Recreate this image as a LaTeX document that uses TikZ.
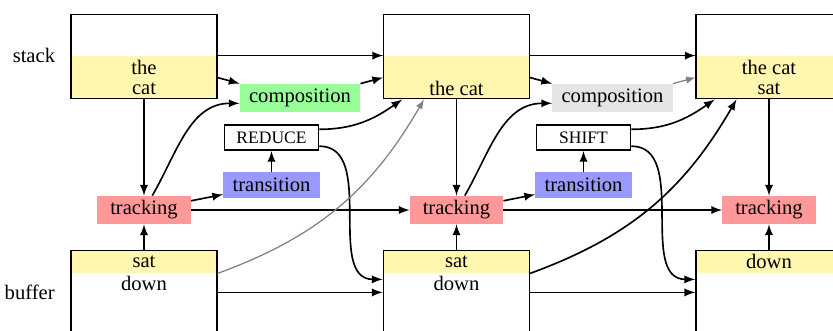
\documentclass[tikz,border=0pt]{standalone}
\usepackage{fontspec}
\setmainfont{Liberation Serif}
\usetikzlibrary{positioning,arrows}
\definecolor{topyellow}{RGB}{255,246,176}
\tikzstyle{line} = [draw, thick, -latex]
\tikzstyle{faded} = [draw, semithick, gray, -latex]

\begin{document}
\begin{tikzpicture}[
	x=0.4856pt, y=0.4856pt,
	node distance=10pt,
	memory/.style={
		rectangle,
		minimum width=70.9pt,
		minimum height=40.8pt,
		thick,
		draw=black,
	},
	stacktop/.style={
		rectangle,
		fill=topyellow,
		minimum width=70.9pt,
		minimum height=20.9pt,
		inner sep=0pt,
		align=center,
		font=\fontsize{10pt}{9.7pt}\selectfont,
	},
	buffertop/.style={
		rectangle,
		fill=topyellow,
		minimum width=70.9pt,
		minimum height=11.2pt,
		inner sep=0pt,
	},
	module/.style={
		rectangle,
		minimum width=45.2pt,
		minimum height=13.6pt,
		inner xsep=4.45pt,
		inner ysep=0pt,
	},
	trackbox/.style={module, fill=red!40},
	transbox/.style={module, fill=blue!40, minimum height=12.6pt},
	compbox/.style={module, fill=green!40},
	idlebox/.style={module, fill=gray!20},
	action/.style={
		rectangle,
		thick,
		draw=black,
		minimum width=45.6pt,
		minimum height=12.1pt,
		inner ysep=0pt,
		font=\fontsize{8.5pt}{10pt}\selectfont,
	},
]
	\useasboundingbox (0,0) rectangle (833,-330);
	\clip (0,0) rectangle (833,-330);

	% stack
	\node (s1top) [stacktop] at (144,-77.5) {the\\cat};
	\node (s2top) [stacktop] at (456.5,-77.5) {\strut\\the cat};
	\node (s3top) [stacktop] at (769,-77.5) {the cat\\sat};
	\node (s1) [memory,anchor=south] at (s1top.south) {};
	\node (s2) [memory,anchor=south] at (s2top.south) {};
	\node (s3) [memory,anchor=south] at (s3top.south) {};
	\node (stacklbl) [left=4pt of s1top.north west] {stack};

	% buffer
	\node (b1top) [buffertop] at (144,-261.5) {sat};
	\node (b2top) [buffertop] at (456.5,-261.5) {sat};
	\node (b3top) [buffertop] at (769,-261.5) {down};
	\node (b1) [memory,anchor=north] at (b1top.north) {};
	\node (b2) [memory,anchor=north] at (b2top.north) {};
	\node (b3) [memory,anchor=north] at (b3top.north) {};
	\node (b1rest) [below=0pt of b1top,inner ysep=1pt] {down};
	\node (b2rest) [below=0pt of b2top,inner ysep=1pt] {down};
	\node (bufferlbl) [left=4pt of b1.west] {buffer};

	% tracking and transitions
	\node (track1) [trackbox] at (144,-210) {tracking};
	\node (track2) [trackbox] at (456.5,-210) {tracking};
	\node (track3) [trackbox] at (769,-210) {tracking};
	\node (trans1) [transbox] at (271.5,-185) {transition};
	\node (trans2) [transbox] at (583.5,-185) {transition};
	\node (reduce) [action,above=10pt of trans1] {REDUCE};
	\node (shift) [action,above=10pt of trans2] {SHIFT};
	\node (comp1) [compbox] at (300,-98) {composition};
	\node (comp2) [idlebox] at (612.5,-98) {composition};

	\draw [line] (s1top.north east) -- (s2top.north west);
	\draw [line] (s2top.north east) -- (s3top.north west);
	\draw [line] (s1top.east) -- (comp1.north west);
	\draw [line] (comp1.north east) -- (s2top.west);
	\draw [line] (s2top.east) -- (comp2.north west);
	\draw [faded] (comp2.north east) -- (s3top.west);

	\draw [line] (s1top) -- (track1);
	\draw [line] (s2top) -- (track2);
	\draw [line] (s3top) -- (track3);
	\draw [line] (b1top) -- (track1);
	\draw [line] (b2top) -- (track2);
	\draw [line] (b3top) -- (track3);

	\draw [line] (track1.60) to[out=60,in=180] (comp1.185);
	\draw [line] (track2.60) to[out=60,in=180] (comp2.185);
	\draw [line] (track1) -- (trans1);
	\draw [line] (track2) -- (trans2);
	\draw [line] (trans1) -- (reduce);
	\draw [line] (trans2) -- (shift);
	\draw [line] (track1) -- (track2);
	\draw [line] (track2) -- (track3);

	\draw [line] (reduce.10) to[out=0,in=215] (s2top.202);
	\draw [line] (reduce.350) to[out=0,in=180] (b2.170);
	\draw [line] (shift.10) to[out=0,in=215] (s3top.202);
	\draw [line] (shift.350) to[out=0,in=180] (b3.170);

	\draw [faded] (b1top.south east) to[out=20,in=240] (s2top.214);
	\draw [line] (b2top.south east) to[out=20,in=240] (s3top.214);
	\draw [line] (b1) -- (b2);
	\draw [line] (b2) -- (b3);

\end{tikzpicture}
\end{document}
